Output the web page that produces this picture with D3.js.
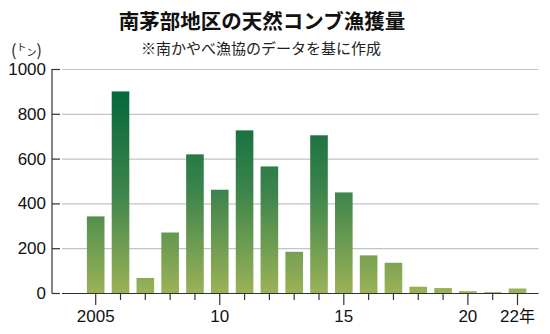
<!DOCTYPE html>
<html><head><meta charset="utf-8">
<script src="https://cdn.jsdelivr.net/npm/d3@7"></script>
<style>body{margin:0;background:#fff}svg{display:block}</style>
</head><body>
<svg id="c" width="550" height="334"></svg>
<script>
const years = [2005,2006,2007,2008,2009,2010,2011,2012,2013,2014,2015,2016,2017,2018,2019,2020,2021,2022];
const values = [342,900,67,270,619,461,726,565,184,704,449,168,135,28,22,8,4,20];
const yTicks = [0,200,400,600,800,1000];
const xLabelYears = [2005,2010,2015,2020,2022];
const xLabels = ["2005","10","15","20","22年"];
const title = "南茅部地区の天然コンブ漁獲量";
const subtitle = "※南かやべ漁協のデータを基に作成";

const svg = d3.select("#c");
const font = "'Liberation Sans', Arial, sans-serif";
const cjk = "'Noto Sans CJK JP', sans-serif";

const x = d3.scaleLinear().domain([2005,2022]).range([95.7,517.5]);
const y = d3.scaleLinear().domain([0,1000]).range([293,69]);
const bw = 17.6;
const x1 = x(2022.85);

const defs = svg.append("defs");
const g = defs.append("linearGradient").attr("id","grad")
  .attr("gradientUnits","userSpaceOnUse")
  .attr("x1",0).attr("x2",0).attr("y1",y(900)).attr("y2",y(0));
g.append("stop").attr("offset",0).attr("stop-color","#05683a");
g.append("stop").attr("offset",0.5).attr("stop-color","#3d844c");
g.append("stop").attr("offset",1).attr("stop-color","#9bb257");

// gridlines
svg.append("g").selectAll("line").data(yTicks.filter(d=>d>0)).join("line")
  .attr("x1",62).attr("x2",x1).attr("y1",d=>y(d)+0.5).attr("y2",d=>y(d)+0.5)
  .attr("stroke","#c4c4c4").attr("stroke-width",1.2);

// bars
svg.append("g").selectAll("rect").data(years).join("rect")
  .attr("x",(d)=>x(d)-bw/2).attr("width",bw)
  .attr("y",(d,i)=>y(values[i])).attr("height",(d,i)=>y(0)-y(values[i]))
  .attr("fill","url(#grad)");

// y axis
svg.append("line").attr("x1",52).attr("x2",52).attr("y1",y(1000)).attr("y2",y(0)+0.5)
  .attr("stroke","#333").attr("stroke-width",1.2);
svg.append("g").selectAll("line").data(yTicks).join("line")
  .attr("x1",52).attr("x2",60).attr("y1",d=>y(d)+0.5).attr("y2",d=>y(d)+0.5)
  .attr("stroke","#333").attr("stroke-width",1.2);
svg.append("g").selectAll("text").data(yTicks).join("text")
  .attr("x",46).attr("y",d=>y(d)+6).attr("text-anchor","end")
  .attr("font-family",font).attr("font-size",17).attr("fill","#111")
  .text(d=>d);

// x axis baseline
svg.append("line").attr("x1",62).attr("x2",x1).attr("y1",y(0)+0.5).attr("y2",y(0)+0.5)
  .attr("stroke","#333").attr("stroke-width",1.2);
svg.append("g").selectAll("line").data(years).join("line")
  .attr("x1",d=>x(d)).attr("x2",d=>x(d)).attr("y1",y(0))
  .attr("y2",d=>xLabelYears.includes(d)?y(0)+12:y(0)+7)
  .attr("stroke","#333").attr("stroke-width",1.2);
svg.append("g").selectAll("text").data(xLabelYears).join("text")
  .attr("x",d=>x(d)).attr("y",322).attr("text-anchor",(d,i)=>i===4?"start":"middle")
  .attr("font-family",font).attr("font-size",17).attr("fill","#111")
  .each(function(d,i){
    const t=d3.select(this);
    if(i===4){
      t.attr("x",x(d)-17.5);
      t.append("tspan").text("22");
      t.append("tspan").attr("font-family",cjk).attr("font-size",16).text("年");
    } else t.text(xLabels[i]);
  });

// titles
svg.append("text").attr("x",262).attr("y",29).attr("text-anchor","middle")
  .attr("font-family",cjk).attr("font-weight","bold").attr("font-size",20.5).attr("fill","#111")
  .text(title);
svg.append("text").attr("x",261).attr("y",54).attr("text-anchor","middle")
  .attr("font-family",cjk).attr("font-size",15).attr("fill","#222")
  .text(subtitle);

// unit
const u = svg.append("text").attr("x",11).attr("y",56).attr("font-family",cjk).attr("font-size",16).attr("fill","#222");
u.append("tspan").text("(");
u.append("tspan").attr("font-size",10).attr("dy",-5).text("ト");
u.append("tspan").attr("font-size",10).attr("dy",5).text("ン");
u.append("tspan").text(")");
</script>
</body></html>
